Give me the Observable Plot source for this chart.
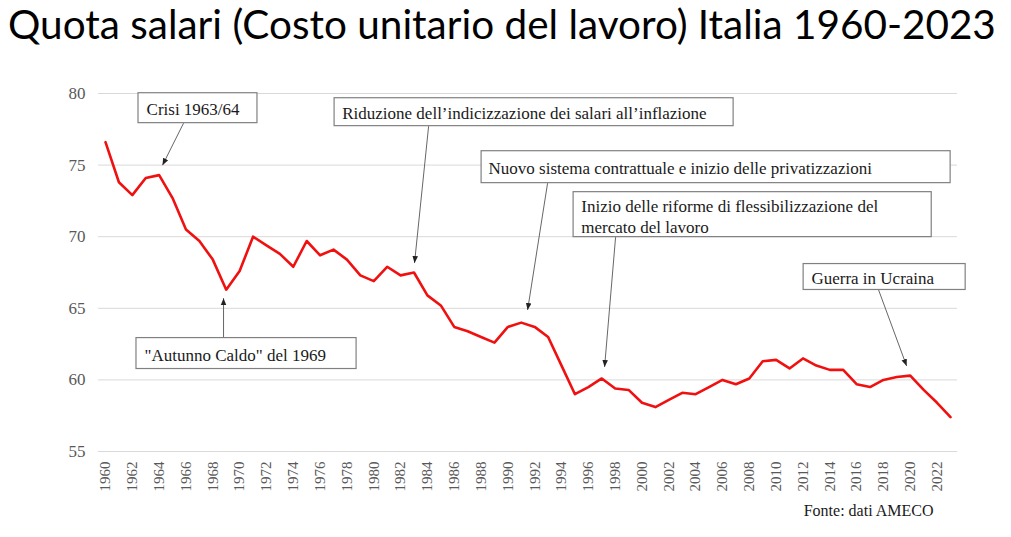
<!DOCTYPE html>
<html>
<head>
<meta charset="utf-8">
<script src="https://cdn.jsdelivr.net/npm/d3@7"></script>
<script src="https://cdn.jsdelivr.net/npm/@observablehq/plot@0.6"></script>
<style>
  html, body { margin: 0; padding: 0; background: #fff; }
  #wrap { position: relative; width: 1011px; height: 537px; }
  #title { position: absolute; left: 8px; top: 0; width: 1000px; height: 56px; white-space: nowrap; font-family: Lato, "Open Sans", sans-serif; font-weight: 400; line-height: 1.2; color: #000; }
  #chart { position: absolute; left: 0; top: 62px; }
  #chart svg text { font-family: "Liberation Serif", "Times New Roman", serif; }
</style>
</head>
<body>
<div id="wrap">
  <div id="title">Quota salari (Costo unitario del lavoro) Italia 1960-2023</div>
  <div id="chart"></div>
</div>
<script>
const titleText = "Quota salari (Costo unitario del lavoro) Italia 1960-2023";
const sourceText = "Fonte: dati AMECO";

const years = d3.range(1960, 2024);
const wageShare = [
  76.6, 73.8, 72.9, 74.1, 74.3, 72.7, 70.5, 69.7, 68.4, 66.3,
  67.6, 70.0, 69.4, 68.8, 67.9, 69.7, 68.7, 69.1, 68.4, 67.3,
  66.9, 67.9, 67.3, 67.5, 65.9, 65.2, 63.7, 63.4, 63.0, 62.6,
  63.7, 64.0, 63.7, 63.0, 61.0, 59.0, 59.5, 60.1, 59.4, 59.3,
  58.4, 58.1, 58.6, 59.1, 59.0, 59.5, 60.0, 59.7, 60.1, 61.3,
  61.4, 60.8, 61.5, 61.0, 60.7, 60.7, 59.7, 59.5, 60.0, 60.2,
  60.3, 59.3, 58.4, 57.4
];
const yTicks = [55, 60, 65, 70, 75, 80];
const xTicks = d3.range(1960, 2023, 2);

// annotation boxes (data coordinates: year / value)
const annLabels = [
  "Crisi 1963/64",
  "Riduzione dell\u2019indicizzazione dei salari all\u2019inflazione",
  "Nuovo sistema contrattuale e inizio delle privatizzazioni",
  "Inizio delle riforme di flessibilizzazione del\nmercato del lavoro",
  "Guerra in Ucraina",
  "\"Autunno Caldo\" del 1969"
];
const annBoxX1 = [1962.46, 1977.08, 1988.04, 1994.90, 2012.05, 1962.31];
const annBoxX2 = [1971.33, 2006.83, 2023.01, 2021.60, 2024.13, 1978.72];
const annBoxY1 = [80.02, 79.67, 75.97, 73.11, 68.09, 62.92];
const annBoxY2 = [77.93, 77.72, 73.74, 69.97, 66.28, 60.76];
const annTextX = [1963.06, 1977.65, 1988.56, 1995.47, 2012.63, 1962.91];
const annTextY = [78.97, 78.70, 74.86, 71.47, 67.18, 61.80];
const arrowFromX = [1965.82, 1984.09, 1992.96, 1998.03, 2017.64, 1968.80];
const arrowFromY = [77.93, 77.72, 73.74, 69.97, 66.28, 62.92];
const arrowToX = [1964.25, 1983.04, 1991.47, 1997.21, 2019.73, 1968.80];
const arrowToY = [74.99, 68.16, 64.88, 60.90, 60.97, 65.71];

const series = years.map((y, i) => ({year: y, value: wageShare[i]}));
const annotations = annLabels.map((label, i) => ({
  label,
  bx1: annBoxX1[i], bx2: annBoxX2[i], by1: annBoxY1[i], by2: annBoxY2[i],
  tx: annTextX[i], ty: annTextY[i],
  ax1: arrowFromX[i], ay1: arrowFromY[i], ax2: arrowToX[i], ay2: arrowToY[i]
}));

function triMarker(color, context) {
  const ns = "http://www.w3.org/2000/svg";
  const doc = (context && context.document) || document;
  const m = doc.createElementNS(ns, "marker");
  m.setAttribute("viewBox", "-10 -5 10 10");
  m.setAttribute("markerWidth", "7");
  m.setAttribute("markerHeight", "7");
  m.setAttribute("markerUnits", "userSpaceOnUse");
  m.setAttribute("orient", "auto");
  m.setAttribute("refX", "0");
  m.setAttribute("refY", "0");
  const p = doc.createElementNS(ns, "path");
  p.setAttribute("d", "M-10,-4L0,0L-10,4Z");
  p.setAttribute("fill", "#222");
  p.setAttribute("stroke", "none");
  m.appendChild(p);
  return m;
}

// fit title width
(function fitTitle() {
  const el = document.getElementById("title");
  el.textContent = titleText;
  const c = document.createElement("canvas").getContext("2d");
  c.font = "400 40px Lato";
  const w = c.measureText(titleText).width;
  const size = 40 * 988 / w;
  el.style.fontSize = size + "px";
  el.style.top = Math.max(0, 38 - 0.987 * size) + "px";
})();

const plot = Plot.plot({
  width: 1011,
  height: 475,
  marginTop: 31,
  marginBottom: 86,
  marginLeft: 98,
  marginRight: 54,
  style: {fontFamily: "Liberation Serif, serif", fontSize: "17px", color: "#595959", background: "#fff"},
  x: {domain: [1959.478, 2023.522]},
  y: {domain: [55, 80]},
  marks: [
    Plot.ruleY(yTicks, {stroke: "#d9d9d9", strokeWidth: 1}),
    Plot.axisY({ticks: yTicks, tickSize: 0, tickPadding: 13, label: null, fontSize: 17, color: "#595959"}),
    Plot.axisX({ticks: xTicks, tickFormat: d => String(d), tickRotate: -90, tickSize: 0, tickPadding: 10, label: null, fontSize: 15, color: "#595959"}),
    Plot.line(series, {x: "year", y: "value", stroke: "#f01010", strokeWidth: 2.6, strokeLinejoin: "round"}),
    Plot.link(annotations, {x1: "ax1", y1: "ay1", x2: "ax2", y2: "ay2", stroke: "#555", strokeWidth: 0.9, markerEnd: triMarker}),
    Plot.rect(annotations, {x1: "bx1", x2: "bx2", y1: "by1", y2: "by2", fill: "#fff", stroke: "#808080", strokeWidth: 1.2}),
    Plot.text(annotations, {x: "tx", y: "ty", text: "label", textAnchor: "start", fill: "#1a1a1a", fontSize: 17, lineHeight: 1.24}),
    Plot.text([sourceText], {frameAnchor: "bottom-right", dx: -24, dy: 64, text: d => d, textAnchor: "end", fill: "#1a1a1a", fontSize: 16})
  ]
});
document.getElementById("chart").appendChild(plot);
</script>
</body>
</html>
